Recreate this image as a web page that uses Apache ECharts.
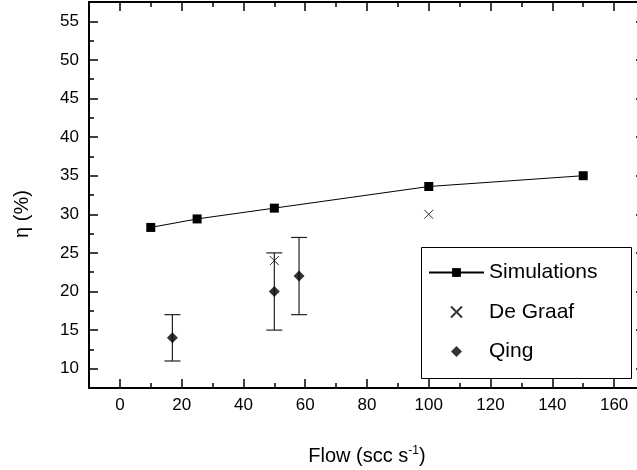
<!DOCTYPE html>
<html>
<head>
<meta charset="utf-8">
<script src="https://cdn.jsdelivr.net/npm/echarts@6/dist/echarts.min.js"></script>
<style>html,body{margin:0;padding:0;background:#fff}#c{width:637px;height:470px}</style>
</head>
<body>
<div id="c"></div>
<script>
// ---- data ----
const simFlow = [10, 25, 50, 100, 150];
const simEta = [28.3, 29.4, 30.8, 33.6, 35.0];
const degraafFlow = [50, 100];
const degraafEta = [24, 30];
const qingFlow = [17, 50, 58];
const qingEta = [14, 20, 22];
const qingLow = [11, 15, 17];
const qingHigh = [17, 25, 27];
const xMajorTicks = [0, 20, 40, 60, 80, 100, 120, 140, 160];
const xMinorTicks = [10, 30, 50, 70, 90, 110, 130, 150];
const yMajorTicks = [10, 15, 20, 25, 30, 35, 40, 45, 50, 55];
const yMinorTicks = [12.5, 17.5, 22.5, 27.5, 32.5, 37.5, 42.5, 47.5, 52.5];

const FONT = "'Liberation Sans', Arial, sans-serif";
const chart = echarts.init(document.getElementById('c'));

function xAx(pos, ticks, len, labels) {
  return {
    type: 'value', position: pos, min: -10, max: 170, interval: 10,
    splitLine: {show: false},
    axisLine: {show: labels !== undefined, onZero: false, lineStyle: {color: '#000', width: 2}},
    axisTick: {show: true, inside: true, length: len, customValues: ticks, lineStyle: {color: '#000', width: 1.5}},
    axisLabel: labels ? {show: true, customValues: labels, color: '#000', fontSize: 17, fontFamily: FONT, margin: 9} : {show: false}
  };
}
function yAx(pos, ticks, len, labels) {
  return {
    type: 'value', position: pos, min: 7.5, max: 57.5, interval: 2.5,
    splitLine: {show: false},
    axisLine: {show: labels !== undefined, onZero: false, lineStyle: {color: '#000', width: 2}},
    axisTick: {show: true, inside: true, length: len, customValues: ticks, lineStyle: {color: '#000', width: 1.5}},
    axisLabel: labels ? {show: true, customValues: labels, color: '#000', fontSize: 17, fontFamily: FONT, margin: 10} : {show: false}
  };
}

const xAxes = [
  xAx('bottom', xMajorTicks, 9, xMajorTicks),
  xAx('bottom', xMinorTicks, 5),
  xAx('top', xMajorTicks, 9, null),
  xAx('top', xMinorTicks, 5)
];
xAxes[2].axisLine.show = true; xAxes[2].axisLabel = {show: false};
xAxes[0].name = 'Flow (scc s{sup|-1})';
xAxes[0].nameLocation = 'middle';
xAxes[0].nameGap = 57;
xAxes[0].nameTextStyle = {color: '#000', fontSize: 20, fontFamily: FONT, padding: [0, 0, 0, 0],
  rich: {sup: {fontSize: 12, fontFamily: FONT, color: '#000', verticalAlign: 'bottom', padding: [0, 0, 10, 0]}}};

const yAxes = [
  yAx('left', yMajorTicks, 9, yMajorTicks),
  yAx('left', yMinorTicks, 5),
  yAx('right', yMajorTicks, 9, null),
  yAx('right', yMinorTicks, 5)
];
yAxes[2].axisLine.show = true; yAxes[2].axisLabel = {show: false};
yAxes[0].name = 'η (%)';
yAxes[0].nameLocation = 'middle';
yAxes[0].nameRotate = 90;
yAxes[0].nameGap = 57;
yAxes[0].nameTextStyle = {color: '#000', fontSize: 20, fontFamily: FONT, padding: [0, 38, 0, 0]};

chart.setOption({
  animation: false,
  backgroundColor: '#fff',
  grid: {left: 89, top: 2, width: 556, height: 386, containLabel: false, outerBoundsMode: 'none'},
  xAxis: xAxes,
  yAxis: yAxes,
  graphic: [{
    type: 'rect', z: 3, shape: {x: 421.5, y: 247.5, width: 210, height: 131},
    style: {fill: '#fff', stroke: '#000', lineWidth: 1}
  }],
  legend: {
    orient: 'vertical', left: 428, top: 262, padding: 0, z: 10,
    itemWidth: 55, itemHeight: 11, itemGap: 18.5,
    symbolKeepAspect: true,
    textStyle: {color: '#000', fontSize: 21, fontFamily: FONT},
    data: [
      {name: 'Simulations'},
      {name: 'De Graaf'},
      {name: 'Qing', icon: 'path://M5,0L10,5L5,10L0,5Z'}
    ]
  },
  series: [
    {
      name: 'Simulations', type: 'line', xAxisIndex: 0, yAxisIndex: 0,
      data: simFlow.map((x, i) => [x, simEta[i]]),
      symbol: 'rect', symbolSize: 9,
      lineStyle: {color: '#000', width: 1},
      itemStyle: {color: '#000'}
    },
    {
      name: 'De Graaf', type: 'scatter', xAxisIndex: 0, yAxisIndex: 0,
      data: degraafFlow.map((x, i) => [x, degraafEta[i]]),
      symbol: 'path://M0,0L10,10M0,10L10,0', symbolSize: 9,
      itemStyle: {color: 'rgba(0,0,0,0)', borderColor: '#000', borderWidth: 1}
    },
    {
      name: 'Qing error', type: 'custom', xAxisIndex: 0, yAxisIndex: 0,
      data: qingFlow.map((x, i) => [x, qingLow[i], qingHigh[i]]),
      encode: {x: 0, y: [1, 2]},
      renderItem: function (params, api) {
        const x = api.value(0);
        const lo = api.coord([x, api.value(1)]);
        const hi = api.coord([x, api.value(2)]);
        const hw = 8;
        const st = {stroke: '#222', lineWidth: 1.2};
        return {type: 'group', children: [
          {type: 'line', shape: {x1: lo[0], y1: lo[1], x2: hi[0], y2: hi[1]}, style: st},
          {type: 'line', shape: {x1: lo[0] - hw, y1: lo[1], x2: lo[0] + hw, y2: lo[1]}, style: st},
          {type: 'line', shape: {x1: hi[0] - hw, y1: hi[1], x2: hi[0] + hw, y2: hi[1]}, style: st}
        ]};
      }
    },
    {
      name: 'Qing', type: 'scatter', xAxisIndex: 0, yAxisIndex: 0, z: 5,
      data: qingFlow.map((x, i) => [x, qingEta[i]]),
      symbol: 'diamond', symbolSize: 11,
      itemStyle: {color: '#000'}
    }
  ]
});
</script>
</body>
</html>
